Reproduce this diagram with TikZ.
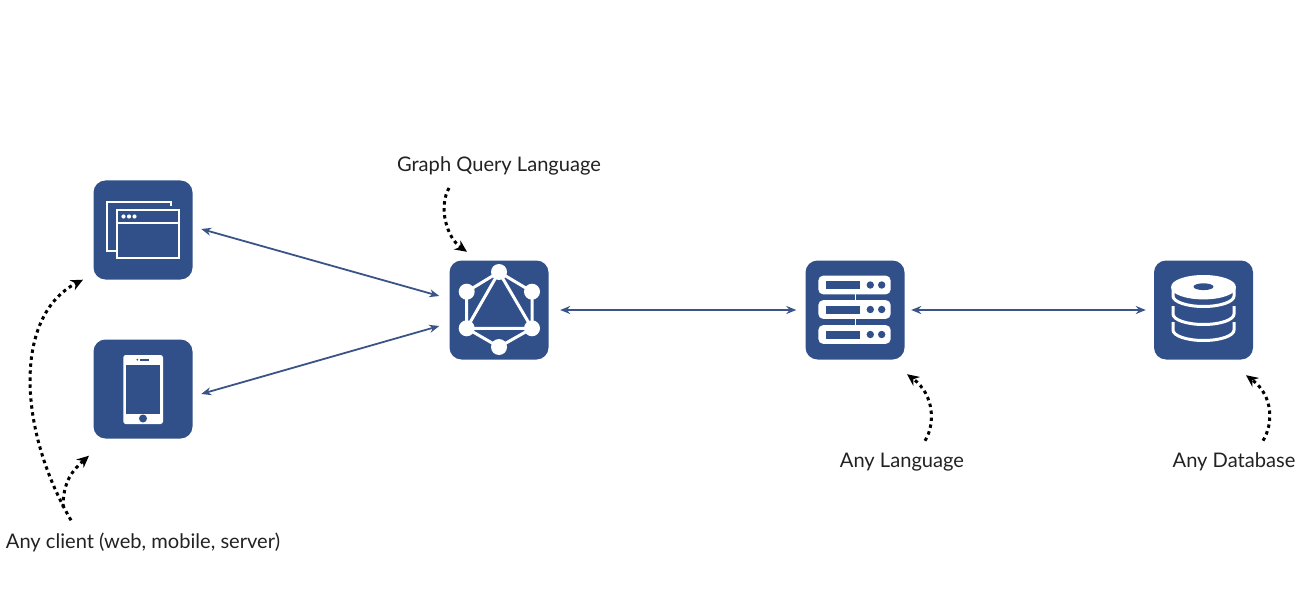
\documentclass[tikz,border=0pt]{standalone}
\usepackage{fontspec}
\setmainfont{Lato}
\usetikzlibrary{arrows.meta}
\definecolor{boxblue}{HTML}{31508A}
\definecolor{linkblue}{HTML}{3A5488}
\definecolor{labelblack}{HTML}{222222}
\tikzset{
  iconbox/.style={fill=boxblue, rounded corners=12pt, minimum size=99pt, inner sep=0pt},
  caption/.style={text=labelblack, font=\fontsize{20.1}{24}\selectfont, inner sep=0pt},
  link/.style={{Stealth[length=10pt,width=8pt]}-{Stealth[length=10pt,width=8pt]}, linkblue, line width=1.8pt},
  hint/.style={-{Stealth[length=12pt,width=11pt]}, black, line width=3pt, dash pattern=on 3.4pt off 3.6pt},
  iconline/.style={draw=white, line width=2pt}
}
\begin{document}
\begin{tikzpicture}[x=1pt, y=-1pt]
\useasboundingbox (0,0) rectangle (1309,596);

% boxes
\node[iconbox] (browser) at (143,230) {};
\node[iconbox] (phone) at (143,389) {};
\node[iconbox] (gql) at (499,310) {};
\node[iconbox] (server) at (855,310) {};
\node[iconbox] (database) at (1203.5,310) {};

% captions
\node[caption] (gqlcap) at (499,165.5) {Graph Query Language};
\node[caption] (servercap) at (902,462) {Any Language};
\node[caption] (dbcap) at (1234,462) {Any Database};
\node[caption] (clientcap) at (143,542) {Any client (web, mobile, server)};

% links
\draw[link] ([shift={(8.5,-1)}]browser.east) -- ([shift={(-10,-14)}]gql.west);
\draw[link] ([shift={(8.5,5)}]phone.east) -- ([shift={(-10,16)}]gql.west);
\draw[link] ([xshift=11.5pt]gql.east) -- ([xshift=-9pt]server.west);
\draw[link] ([xshift=6.5pt]server.east) -- ([xshift=-8pt]database.west);

% hints
\draw[hint] ([shift={(-50,13)}]gqlcap.south) .. controls +(-11,20) and +(-20,-14) .. ([shift={(-32,-8.5)}]gql.north);
\draw[hint] ([shift={(23,-12)}]servercap.north) .. controls +(10,-16) and +(28,21) .. ([shift={(52,14.5)}]server.south);
\draw[hint] ([shift={(29,-12)}]dbcap.north) .. controls +(10,-16) and +(28,21) .. ([shift={(42.5,15.5)}]database.south);
\draw[hint] ([shift={(-72,-12)}]clientcap.north) .. controls +(-55,-95) and +(-68,35) .. ([shift={(-60,0)}]browser.south);
\draw[hint] ([shift={(-80,-25)}]clientcap.north) .. controls +(0,-25) and +(-17,15) .. ([shift={(-54,17)}]phone.south);

% browser icon
\begin{scope}[shift={(browser.center)}]
  \draw[iconline] (28,-24) -- (28,-28) -- (-36,-28) -- (-36,21) -- (-27,21);
  \draw[iconline] (-26.5,-20) rectangle (36,28);
  \draw[iconline] (-26.5,-7) -- (36,-7);
  \foreach \dotx in {-19.5,-14,-8.5}
    \fill[white] (\dotx,-13.5) circle (2.1);
\end{scope}

% phone icon
\begin{scope}[shift={(phone.center)}]
  \fill[white, rounded corners=2.5pt] (-19.7,-34) rectangle (20,35);
  \fill[boxblue] (-16.7,-24) rectangle (17,24.5);
  \fill[boxblue] (0,29.5) circle (4);
  \fill[boxblue] (-3,-30.2) rectangle (6.3,-28.4);
  \fill[boxblue] (-5.7,-29.3) circle (1);
\end{scope}

% graph icon
\begin{scope}[shift={(gql.center)}]
  \draw[white, line width=3pt] (0,-38) -- (33,-18.3) -- (33,18.3) -- (0,37) -- (-32.3,18.3) -- (-32.3,-18.3) -- cycle;
  \draw[white, line width=3pt] (0,-38) -- (33,18.3) -- (-32.3,18.3) -- cycle;
  \foreach \nodex/\nodey in {0/-38,33/-18.3,33/18.3,0/37,-32.3/18.3,-32.3/-18.3}
    \fill[white] (\nodex,\nodey) circle (8);
\end{scope}

% server icon
\begin{scope}[shift={(server.center)}]
  \draw[white, line width=1.5pt] (0.5,-16) -- (0.5,-10);
  \draw[white, line width=1.5pt] (0.5,9) -- (0.5,15);
  \foreach \rowy in {-25,-0.5,24.5} {
    \fill[white, rounded corners=5pt] (-36.7,\rowy-9.4) rectangle (35.7,\rowy+9.4);
    \fill[boxblue] (-29,\rowy-4) rectangle (5,\rowy+4);
    \fill[boxblue] (15.3,\rowy) circle (3.7);
    \fill[boxblue] (26.7,\rowy) circle (3.7);
  }
\end{scope}

% database icon
\begin{scope}[shift={(database.center)}]
  \foreach \bandy in {-14,4,20}
    \draw[white, line width=3pt] (-30.5,\bandy-8) -- (-30.5,\bandy) arc[start angle=180, end angle=0, x radius=30.5, y radius=10.5] -- (30.5,\bandy-8);
  \fill[white] (-32.3,-23.3) arc[start angle=180, end angle=360, x radius=32.3, y radius=11.7]
    -- (32.3,-23.3+1) arc[start angle=0, end angle=180, x radius=32.3, y radius=11.7] -- cycle;
  \fill[boxblue] (0,-23.3) ellipse (10 and 3.4);
\end{scope}
\end{tikzpicture}
\end{document}
